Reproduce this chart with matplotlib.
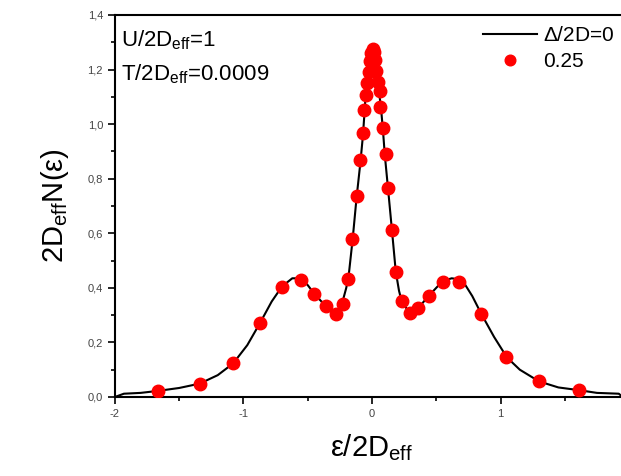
import matplotlib
matplotlib.use('Agg')
import matplotlib.pyplot as plt
from matplotlib.ticker import MultipleLocator

plt.rcParams['font.family'] = ['Liberation Sans', 'DejaVu Sans']
plt.rcParams['mathtext.fontset'] = 'custom'
plt.rcParams['mathtext.rm'] = 'Liberation Sans'
plt.rcParams['mathtext.it'] = 'Liberation Sans'

# black curve, Delta/2D = 0
line_x = [-2.0, -1.93, -1.8, -1.67, -1.5, -1.34, -1.2, -1.08, -0.97, -0.87,
          -0.78, -0.70, -0.62, -0.555, -0.50, -0.45, -0.36, -0.30, -0.28, -0.24,
          -0.20, -0.18, -0.15, -0.12, -0.09, -0.07, -0.05, -0.03, -0.01, 0.0,
          0.01, 0.03, 0.055, 0.07, 0.085, 0.10, 0.125, 0.155, 0.185, 0.21,
          0.23, 0.29, 0.36, 0.44, 0.55, 0.62, 0.70, 0.78, 0.85, 0.95,
          1.05, 1.15, 1.30, 1.45, 1.61, 1.75, 1.92, 1.95]
line_y = [0.0, 0.012, 0.015, 0.022, 0.033, 0.049, 0.08, 0.123, 0.19, 0.272,
          0.35, 0.405, 0.435, 0.435, 0.41, 0.379, 0.333, 0.31, 0.305, 0.33,
          0.40, 0.45, 0.58, 0.73, 0.86, 0.96, 1.10, 1.17, 1.25, 1.27,
          1.27, 1.22, 1.117, 1.06, 0.98, 0.886, 0.763, 0.613, 0.46, 0.39,
          0.352, 0.309, 0.326, 0.370, 0.425, 0.435, 0.43, 0.37, 0.305, 0.22,
          0.145, 0.10, 0.057, 0.035, 0.025, 0.015, 0.012, 0.0]

# red dots, Delta/2D = 0.25
dot_x = [-1.668, -1.341, -1.079, -0.869, -0.701, -0.555, -0.448, -0.357, -0.280, -0.229,
         -0.183, -0.152, -0.118, -0.090, -0.072, -0.059, -0.047,
         -0.035, -0.025, -0.015, -0.005, 0.005, 0.015, 0.025, 0.035, 0.045,
         0.061, 0.064, 0.082, 0.107, 0.125, 0.155, 0.186, 0.232, 0.293, 0.360,
         0.442, 0.549, 0.680, 0.848, 1.046, 1.296, 1.613]
dot_y = [0.022, 0.049, 0.123, 0.272, 0.403, 0.428, 0.379, 0.333, 0.305, 0.342,
         0.434, 0.579, 0.738, 0.869, 0.968, 1.052, 1.107,
         1.15, 1.19, 1.23, 1.26, 1.275, 1.265, 1.235, 1.195, 1.155,
         1.123, 1.063, 0.986, 0.891, 0.767, 0.613, 0.459, 0.352, 0.309, 0.326,
         0.370, 0.420, 0.420, 0.305, 0.145, 0.057, 0.025]

x_ticks = [-2, -1, 0, 1]
y_ticks = [0.0, 0.2, 0.4, 0.6, 0.8, 1.0, 1.2, 1.4]
y_tick_labels = ['0,0', '0,2', '0,4', '0,6', '0,8', '1,0', '1,2', '1,4']

fig = plt.figure(figsize=(6.21, 4.76), dpi=100)
ax = fig.add_axes([0.185, 0.166, 0.828, 0.8025])

ax.plot(line_x, line_y, color='black', linewidth=1.5, label=r'$\Delta$/2D=0', zorder=2)
ax.plot(dot_x, dot_y, linestyle='none', marker='o', markersize=9,
        color='#ff0000', markeredgecolor='#ff0000', label='0.25', zorder=3)

ax.set_xlim(-2, 2)
ax.set_ylim(0, 1.4)
ax.set_xticks(x_ticks)
ax.set_xticklabels([str(v) for v in x_ticks])
ax.set_yticks(y_ticks)
ax.set_yticklabels(y_tick_labels)
ax.xaxis.set_minor_locator(MultipleLocator(0.5))
ax.yaxis.set_minor_locator(MultipleLocator(0.1))
ax.tick_params(which='major', direction='out', length=5, width=1.2,
               labelsize=8, labelcolor='#444444', top=False, right=False)
ax.tick_params(which='minor', direction='out', length=3, width=1.2,
               top=False, right=False)
for side in ['left', 'bottom', 'top']:
    ax.spines[side].set_linewidth(1.5)
ax.spines['right'].set_visible(False)

ax.set_xlabel(r'$\epsilon$/2D$_{\mathrm{eff}}$', fontsize=21, labelpad=10)
ax.set_ylabel(r'2D$_{\mathrm{eff}}$N($\epsilon$)', fontsize=21, labelpad=12)

ax.text(0.012, 0.965, r'U/2D$_{\mathrm{eff}}$=1', transform=ax.transAxes,
        fontsize=16, va='top', ha='left')
ax.text(0.012, 0.875, r'T/2D$_{\mathrm{eff}}$=0.0009', transform=ax.transAxes,
        fontsize=16, va='top', ha='left')

leg = ax.legend(loc='upper left', bbox_to_anchor=(483 / 621, 1 - 26 / 476),
                bbox_transform=fig.transFigure, frameon=False, fontsize=15,
                handlelength=2.6, handletextpad=0.3, labelspacing=0.35,
                borderpad=0, borderaxespad=0, markerscale=0.85)

fig.savefig('out.png', dpi=100)
plt.close(fig)
